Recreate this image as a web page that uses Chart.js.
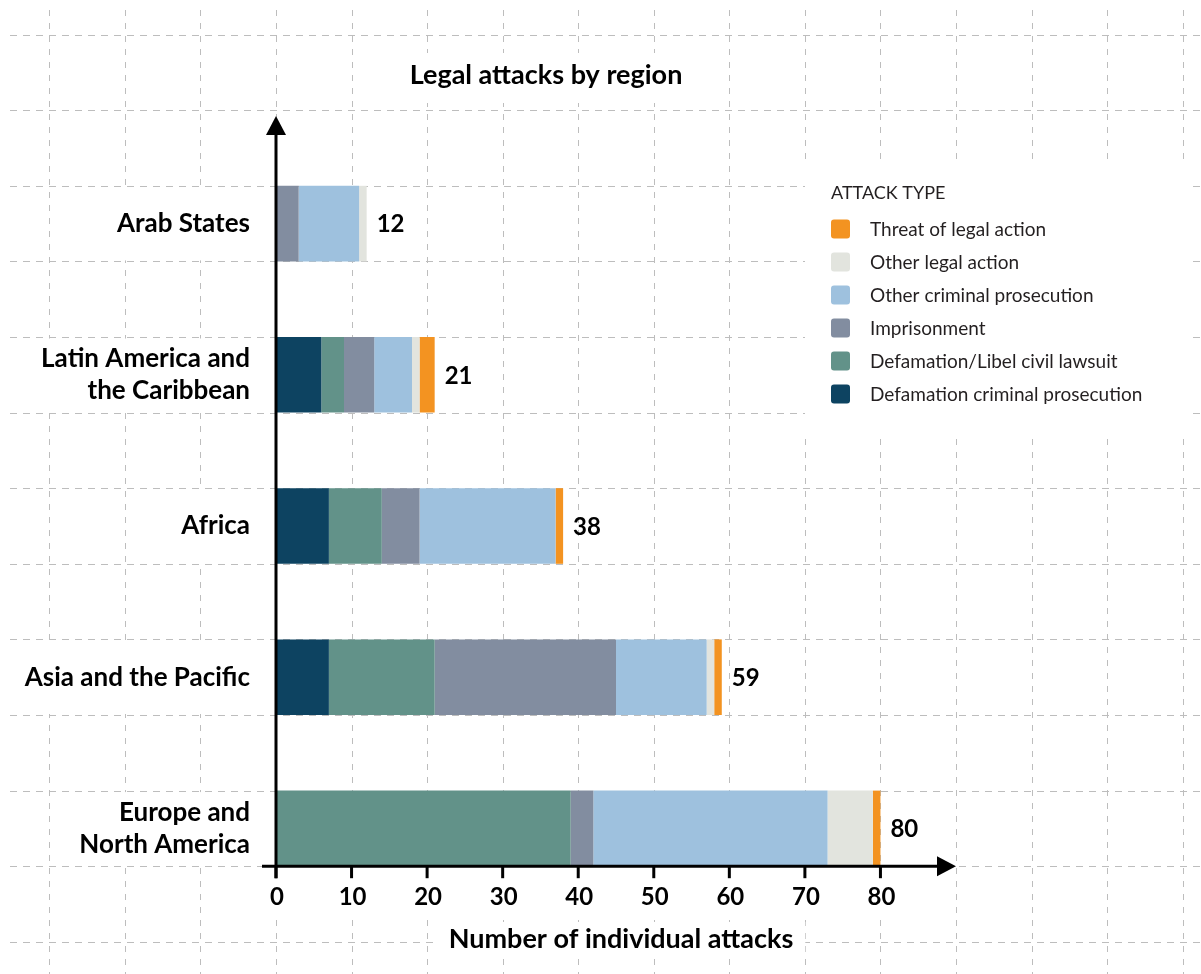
<!DOCTYPE html>
<html>
<head>
<meta charset="utf-8">
<title>Legal attacks by region</title>
<script src="https://cdn.jsdelivr.net/npm/chart.js@4"></script>
<style>
  html, body { margin: 0; padding: 0; background: #fff; }
  #chart { display: block; }
</style>
</head>
<body>
<canvas id="chart" width="1201" height="974"></canvas>
<script>
// Regions (multi-line labels are arrays)
const regions = [
  'Arab States',
  ['Latin America and', 'the Caribbean'],
  'Africa',
  'Asia and the Pacific',
  ['Europe and', 'North America']
];

// Number of attacks per type, one value per region
const defamationCriminal = [0, 6, 7, 7, 0];
const defamationCivil    = [0, 3, 7, 14, 39];
const imprisonment       = [3, 4, 5, 24, 3];
const otherCriminal      = [8, 5, 18, 12, 31];
const otherLegal         = [1, 1, 0, 1, 6];
const threatLegal        = [0, 2, 1, 1, 1];

const xTicks = [0, 10, 20, 30, 40, 50, 60, 70, 80];

const seriesNames = [
  'Defamation criminal prosecution',
  'Defamation/Libel civil lawsuit',
  'Imprisonment',
  'Other criminal prosecution',
  'Other legal action',
  'Threat of legal action'
];
const seriesData = [defamationCriminal, defamationCivil, imprisonment, otherCriminal, otherLegal, threatLegal];
const seriesColors = ['#0d4361', '#629289', '#828da0', '#9ec1de', '#e2e4de', '#f39321'];

const FONT = 'Lato, "Open Sans", sans-serif';
const GRID_COLOR = '#bdbdbd';
const LABEL_SIZE = 26;
const TITLE_SIZE = 27;
const TICK_SIZE = 24;

function boldFont(size) { return 'bold ' + size + 'px ' + FONT; }

function whiteBox(ctx, x1, y1, x2, y2) {
  ctx.fillStyle = '#fff';
  ctx.fillRect(x1, y1, x2 - x1, y2 - y1);
}

// Dashed paper grid + white patches behind the text blocks
const backdrop = {
  id: 'backdrop',
  beforeDraw(chart) {
    const { ctx, width: W, height: H } = chart;
    const xs = chart.scales.x, ys = chart.scales.y;
    ctx.save();
    ctx.fillStyle = '#fff';
    ctx.fillRect(0, 0, W, H);

    ctx.strokeStyle = GRID_COLOR;
    ctx.lineWidth = 1;
    ctx.setLineDash([6, 7]);
    for (let v = -40; v <= 130; v += 10) {
      const px = Math.round(xs.getPixelForValue(v)) + 0.5;
      if (px < 5 || px > W) continue;
      ctx.beginPath(); ctx.moveTo(px, 10); ctx.lineTo(px, H); ctx.stroke();
    }
    ctx.setLineDash([7, 6]);
    const row = (ys.getPixelForValue(1) - ys.getPixelForValue(0)) / 2;
    const first = ys.getPixelForValue(0) - row / 2;
    for (let k = -3; k <= 12; k++) {
      const py = Math.round(first + k * row) + 0.5;
      if (py < 5 || py > H) continue;
      ctx.beginPath(); ctx.moveTo(10, py); ctx.lineTo(W, py); ctx.stroke();
    }
    ctx.setLineDash([]);

    const x0 = xs.getPixelForValue(0);
    const axisY = ys.getPixelForValue(regions.length - 1) + row / 2;

    // title
    ctx.font = boldFont(TITLE_SIZE);
    let w = ctx.measureText('Legal attacks by region').width;
    whiteBox(ctx, 546 - w / 2 - 15, 53, 546 + w / 2 + 15, 103);

    // region labels
    ctx.font = boldFont(LABEL_SIZE);
    regions.forEach((lab, i) => {
      const lines = Array.isArray(lab) ? lab : [lab];
      const lw = Math.max(...lines.map(l => ctx.measureText(l).width));
      const cy = ys.getPixelForValue(i);
      whiteBox(ctx, x0 - 26 - lw - 14, cy - row / 2 + 1.5, x0 - 2, cy + row / 2 - 1);
    });

    // x tick label band
    whiteBox(ctx, x0 - 14, axisY + 3, xs.getPixelForValue(80) + 25, axisY + 52);

    // axis title
    ctx.font = boldFont(TITLE_SIZE);
    w = ctx.measureText('Number of individual attacks').width;
    whiteBox(ctx, 621 - w / 2 - 12, 922, 621 + w / 2 + 12, 958);

    // legend panel
    whiteBox(ctx, 805, 160, 1190, 432);
    ctx.restore();
  }
};

// Arrowed axes, tick labels, totals, titles and legend
const decorations = {
  id: 'decorations',
  afterDraw(chart) {
    const { ctx, chartArea } = chart;
    const xs = chart.scales.x, ys = chart.scales.y;
    const row = (ys.getPixelForValue(1) - ys.getPixelForValue(0)) / 2;
    const x0 = xs.getPixelForValue(0);
    const axisY = ys.getPixelForValue(regions.length - 1) + row / 2;
    const xEnd = chartArea.right;
    const yTop = chartArea.top - 32;

    ctx.save();
    ctx.strokeStyle = '#000';
    ctx.fillStyle = '#000';
    ctx.lineWidth = 3;

    // y axis
    ctx.beginPath(); ctx.moveTo(x0, axisY + 12); ctx.lineTo(x0, yTop + 16); ctx.stroke();
    ctx.beginPath(); ctx.moveTo(x0, yTop); ctx.lineTo(x0 - 10, yTop + 19); ctx.lineTo(x0 + 10, yTop + 19); ctx.closePath(); ctx.fill();

    // x axis
    ctx.beginPath(); ctx.moveTo(x0 - 14, axisY); ctx.lineTo(xEnd - 16, axisY); ctx.stroke();
    ctx.beginPath(); ctx.moveTo(xEnd, axisY); ctx.lineTo(xEnd - 19, axisY - 10); ctx.lineTo(xEnd - 19, axisY + 10); ctx.closePath(); ctx.fill();

    // ticks and tick labels
    ctx.font = boldFont(TICK_SIZE);
    ctx.textAlign = 'center';
    ctx.textBaseline = 'middle';
    xTicks.forEach(v => {
      const px = xs.getPixelForValue(v);
      ctx.beginPath(); ctx.moveTo(px, axisY); ctx.lineTo(px, axisY + 12); ctx.stroke();
      ctx.fillText(String(v), px + 1, axisY + 31);
    });

    // totals at the end of each bar
    ctx.textAlign = 'left';
    regions.forEach((_, i) => {
      const total = seriesData.reduce((s, d) => s + d[i], 0);
      ctx.fillText(String(total), xs.getPixelForValue(total) + 10, ys.getPixelForValue(i) + 1);
    });

    // titles
    ctx.textAlign = 'center';
    ctx.font = boldFont(TITLE_SIZE);
    ctx.fillText('Legal attacks by region', 546, 75);
    ctx.fillText('Number of individual attacks', 621, 939);

    // legend
    ctx.textAlign = 'left';
    ctx.fillStyle = '#231f20';
    ctx.font = '18px ' + FONT;
    ctx.fillText('ATTACK TYPE', 831, 193);
    ctx.font = '19px ' + FONT;
    for (let k = 0; k < seriesNames.length; k++) {
      const i = seriesNames.length - 1 - k;
      const cy = 229 + k * 33;
      ctx.fillStyle = seriesColors[i];
      ctx.beginPath(); ctx.roundRect(831, cy - 9.5, 19, 19, 3); ctx.fill();
      ctx.fillStyle = '#231f20';
      ctx.fillText(seriesNames[i], 870, cy + 1);
    }
    ctx.restore();
  }
};

new Chart(document.getElementById('chart'), {
  type: 'bar',
  data: {
    labels: regions,
    datasets: seriesNames.map((name, i) => ({
      label: name,
      data: seriesData[i],
      backgroundColor: seriesColors[i],
      borderWidth: 0,
      barPercentage: 0.5,
      categoryPercentage: 1
    }))
  },
  options: {
    indexAxis: 'y',
    responsive: false,
    animation: false,
    devicePixelRatio: 1,
    layout: { padding: { top: 148, right: 245, bottom: 70, left: 0 } },
    plugins: { legend: { display: false }, tooltip: { enabled: false } },
    scales: {
      x: { type: 'linear', stacked: true, min: 0, max: 90, display: false },
      y: {
        type: 'category',
        stacked: true,
        grid: { display: false, drawTicks: false },
        border: { display: false },
        ticks: {
          color: '#000',
          padding: 26,
          font: { family: FONT, size: LABEL_SIZE, weight: 'bold', lineHeight: 1.24 }
        },
        afterFit(scale) { scale.width = 276; }
      }
    }
  },
  plugins: [backdrop, decorations]
});
</script>
</body>
</html>
